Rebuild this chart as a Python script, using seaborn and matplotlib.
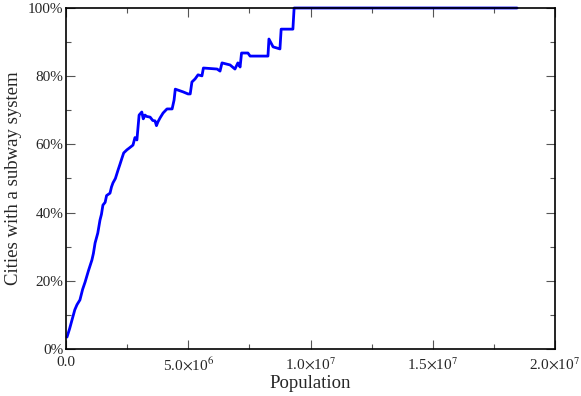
import matplotlib
matplotlib.use("Agg")
import matplotlib.pyplot as plt
from matplotlib.ticker import MultipleLocator
import seaborn as sns
import pandas as pd

# population (people) vs share of cities with a subway system (%)
population = [
    4.1e4, 1.5e5, 2.45e5, 3.6e5, 4.5e5, 5.7e5, 6.8e5, 7.8e5, 9.2e5, 1.06e6,
    1.12e6, 1.19e6, 1.30e6, 1.39e6, 1.45e6, 1.51e6, 1.60e6, 1.66e6, 1.80e6,
    1.86e6, 1.92e6, 2.02e6, 2.13e6, 2.20e6, 2.29e6, 2.36e6, 2.49e6, 2.60e6,
    2.74e6, 2.82e6, 2.90e6, 2.99e6, 3.10e6, 3.16e6, 3.23e6, 3.30e6, 3.44e6,
    3.55e6, 3.64e6, 3.70e6, 3.76e6, 3.85e6, 3.97e6, 4.13e6, 4.34e6, 4.42e6,
    4.47e6, 4.79e6, 4.99e6, 5.08e6, 5.15e6, 5.28e6, 5.40e6, 5.56e6, 5.62e6,
    6.18e6, 6.30e6, 6.38e6, 6.71e6, 6.91e6, 7.03e6, 7.12e6, 7.18e6, 7.44e6,
    7.53e6, 8.26e6, 8.30e6, 8.47e6, 8.75e6, 8.80e6, 9.28e6, 9.33e6, 1.845e7,
]
share = [
    3.5, 6.0, 8.5, 11.5, 13.0, 14.4, 17.5, 19.6, 23.0, 26.1,
    28.0, 31.1, 34.0, 37.8, 39.5, 42.2, 43.0, 45.0, 45.7,
    47.5, 48.7, 50.0, 52.5, 54.0, 56.0, 57.5, 58.4, 59.0,
    59.8, 62.0, 61.3, 68.6, 69.5, 67.5, 68.6, 68.2, 68.0,
    67.0, 66.9, 65.5, 66.6, 67.8, 69.2, 70.4, 70.4, 73.0,
    76.2, 75.4, 74.8, 74.8, 78.3, 79.2, 80.4, 80.1, 82.4,
    82.1, 81.5, 83.9, 83.3, 82.1, 83.9, 82.7, 86.8, 86.8,
    85.9, 85.9, 90.9, 88.6, 88.0, 93.8, 93.8, 100.0, 100.0,
]
x_ticks = [0, 5e6, 1e7, 1.5e7, 2e7]
x_labels = ["0.0", r"5.0$\times$10$^{6}$", r"1.0$\times$10$^{7}$",
            r"1.5$\times$10$^{7}$", r"2.0$\times$10$^{7}$"]
y_ticks = [0, 20, 40, 60, 80, 100]
y_labels = ["0%", "20%", "40%", "60%", "80%", "100%"]

df = pd.DataFrame({"Population": population, "Share": share})

sns.set_style("ticks")
plt.rcParams['font.family'] = ['Liberation Serif', 'DejaVu Serif']
plt.rcParams['mathtext.fontset'] = 'stix'

fig = plt.figure(figsize=(5.81, 3.96), dpi=100)
ax = fig.add_axes([66 / 581, 1 - 349 / 396, (555 - 66) / 581, (349 - 8) / 396])

sns.lineplot(data=df, x="Population", y="Share", ax=ax, color="#0000ff",
             linewidth=2.0, sort=False, estimator=None, clip_on=False)

ax.set_xlim(0, 2e7)
ax.set_ylim(0, 100)
ax.set_xticks(x_ticks)
ax.set_xticklabels(x_labels)
ax.set_yticks(y_ticks)
ax.set_yticklabels(y_labels)
ax.xaxis.set_minor_locator(MultipleLocator(2.5e6))
ax.yaxis.set_minor_locator(MultipleLocator(10))
ax.tick_params(which="both", direction="in", top=True, right=True,
               labelsize=11, width=0.8, color="#555555", pad=2)
ax.tick_params(axis="x", which="major", pad=5)
ax.tick_params(which="major", length=6.5)
ax.tick_params(which="minor", length=3.5)
for s in ax.spines.values():
    s.set_linewidth(1.2)
    s.set_color("black")

ax.set_xlabel("Population", fontsize=13.5, labelpad=1)
ax.set_ylabel("Cities with a subway system", fontsize=13.5, labelpad=4)

fig.savefig("out.png", dpi=100)
